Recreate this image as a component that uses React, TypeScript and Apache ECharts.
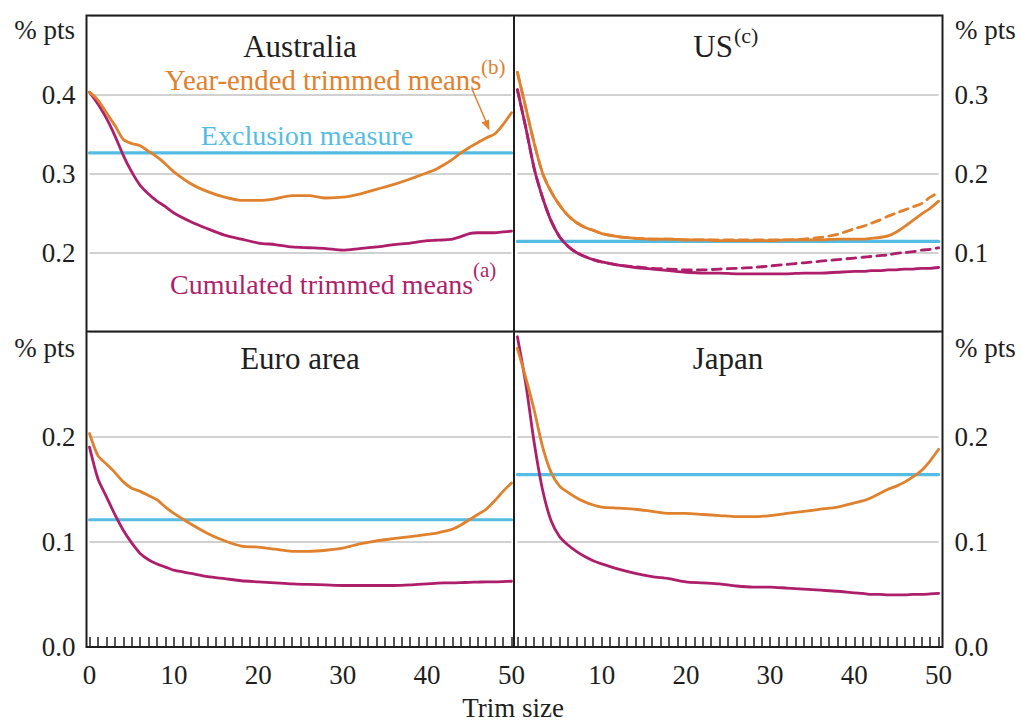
import React, { useEffect, useRef } from 'react';
import * as echarts from 'echarts';

// Trim sizes at which values are read
const TRIM = [0, 1, 2, 3, 4, 5, 6, 7, 8, 9, 10, 12, 14, 16, 18, 20, 22, 24, 26, 28, 30, 32, 34, 36, 38, 40, 41, 42, 43, 44, 45, 46, 47, 48, 49, 50];

// Australia
const AU_YEAR_ENDED = [0.403, 0.393, 0.377, 0.361, 0.343, 0.338, 0.335, 0.328, 0.321, 0.312, 0.302, 0.287, 0.277, 0.270, 0.266, 0.266, 0.268, 0.272, 0.272, 0.269, 0.270, 0.274, 0.280, 0.286, 0.293, 0.301, 0.305, 0.311, 0.318, 0.326, 0.333, 0.339, 0.345, 0.350, 0.362, 0.377];
const AU_CUMULATED = [0.403, 0.388, 0.370, 0.348, 0.323, 0.302, 0.285, 0.274, 0.265, 0.258, 0.250, 0.239, 0.230, 0.222, 0.217, 0.212, 0.210, 0.207, 0.206, 0.205, 0.203, 0.205, 0.207, 0.210, 0.212, 0.215, 0.2155, 0.216, 0.217, 0.220, 0.224, 0.225, 0.225, 0.225, 0.226, 0.227];
const AU_EXCLUSION = 0.326;

// US
const US_YEAR_ENDED = [0.328, 0.283, 0.238, 0.200, 0.177, 0.160, 0.147, 0.138, 0.132, 0.128, 0.124, 0.120, 0.118, 0.117, 0.117, 0.116, 0.116, 0.115, 0.115, 0.115, 0.115, 0.116, 0.116, 0.116, 0.117, 0.117, 0.117, 0.118, 0.119, 0.121, 0.126, 0.133, 0.141, 0.149, 0.156, 0.165];
const US_YEAR_ENDED_ALT = [0.328, 0.283, 0.238, 0.200, 0.177, 0.160, 0.147, 0.138, 0.132, 0.128, 0.124, 0.120, 0.118, 0.117, 0.117, 0.116, 0.116, 0.116, 0.116, 0.116, 0.116, 0.116, 0.117, 0.119, 0.123, 0.130, 0.133, 0.137, 0.141, 0.146, 0.150, 0.154, 0.158, 0.162, 0.170, 0.176];
const US_CUMULATED = [0.306, 0.258, 0.206, 0.169, 0.140, 0.120, 0.108, 0.100, 0.095, 0.091, 0.088, 0.084, 0.081, 0.079, 0.077, 0.075, 0.074, 0.074, 0.073, 0.073, 0.073, 0.073, 0.074, 0.074, 0.075, 0.076, 0.076, 0.077, 0.077, 0.078, 0.078, 0.079, 0.079, 0.080, 0.080, 0.081];
const US_CUMULATED_ALT = [0.306, 0.258, 0.206, 0.169, 0.140, 0.120, 0.108, 0.100, 0.095, 0.091, 0.088, 0.084, 0.082, 0.080, 0.079, 0.078, 0.078, 0.079, 0.080, 0.081, 0.083, 0.085, 0.087, 0.089, 0.091, 0.093, 0.094, 0.095, 0.096, 0.097, 0.099, 0.100, 0.101, 0.103, 0.104, 0.106];
const US_EXCLUSION = 0.114;

// Euro area
const EU_YEAR_ENDED = [0.203, 0.182, 0.174, 0.166, 0.157, 0.151, 0.148, 0.144, 0.140, 0.133, 0.127, 0.117, 0.108, 0.101, 0.096, 0.095, 0.093, 0.091, 0.091, 0.092, 0.094, 0.098, 0.101, 0.103, 0.105, 0.107, 0.108, 0.110, 0.112, 0.116, 0.121, 0.126, 0.131, 0.139, 0.148, 0.156];
const EU_CUMULATED = [0.190, 0.160, 0.143, 0.126, 0.111, 0.099, 0.089, 0.083, 0.079, 0.076, 0.073, 0.070, 0.067, 0.065, 0.063, 0.062, 0.061, 0.060, 0.0595, 0.059, 0.0585, 0.0585, 0.0585, 0.0585, 0.059, 0.060, 0.0605, 0.061, 0.061, 0.0612, 0.0615, 0.0617, 0.062, 0.062, 0.0622, 0.0625];
const EU_EXCLUSION = 0.121;

// Japan
const JP_YEAR_ENDED = [0.284, 0.256, 0.225, 0.190, 0.166, 0.153, 0.147, 0.142, 0.138, 0.135, 0.133, 0.132, 0.131, 0.129, 0.127, 0.127, 0.126, 0.125, 0.124, 0.124, 0.125, 0.127, 0.129, 0.131, 0.133, 0.137, 0.139, 0.142, 0.146, 0.150, 0.153, 0.157, 0.162, 0.168, 0.177, 0.188];
const JP_CUMULATED = [0.295, 0.250, 0.194, 0.149, 0.120, 0.105, 0.097, 0.091, 0.086, 0.082, 0.079, 0.074, 0.070, 0.067, 0.065, 0.062, 0.061, 0.060, 0.058, 0.057, 0.057, 0.056, 0.055, 0.054, 0.053, 0.0515, 0.051, 0.050, 0.050, 0.0495, 0.0495, 0.0495, 0.050, 0.050, 0.0505, 0.051];
const JP_EXCLUSION = 0.164;

const X_TICK_LABELS = [0, 10, 20, 30, 40, 50];

const ORANGE = '#DF812D';
const PURPLE = '#AE1F6B';
const BLUE = '#55BDE4';
const INK = '#1e1e1e';
const GRIDGRAY = '#c2c2c2';
const FONT = "'Liberation Serif', 'Times New Roman', serif";

const pairs = (ys: number[]) => TRIM.map((t, i) => [t, ys[i]]);
const flat = (v: number) => [[0, v], [50, v]];

function lineSeries(idx: number, data: number[][], color: string, dashed = false, width = 2.8, z = 3) {
  return {
    type: 'line',
    xAxisIndex: idx,
    yAxisIndex: idx,
    data,
    showSymbol: false,
    smooth: 0.25,
    silent: true,
    z,
    lineStyle: { color, width, type: dashed ? [9, 6] : 'solid', cap: 'round', join: 'round' },
  };
}

function txt(text: string, x: number, y: number, size: number, color: string, align: string) {
  return {
    type: 'text',
    x,
    y,
    z: 50,
    style: {
      text,
      fill: color,
      font: `${size}px ${FONT}`,
      align,
      textAlign: align,
      verticalAlign: 'middle',
      textVerticalAlign: 'middle',
    },
  };
}

export default function App() {
  const ref = useRef<HTMLDivElement>(null);

  useEffect(() => {
    if (!ref.current) return;
    const chart = echarts.init(ref.current, undefined, { renderer: 'svg' });

    const grids = [
      { left: 89.5, top: 15.5, width: 422, height: 316 },
      { left: 517.4, top: 15.5, width: 421.2, height: 316 },
      { left: 89.5, top: 331.5, width: 422, height: 315.5 },
      { left: 517.4, top: 331.5, width: 421.2, height: 315.5 },
    ];

    const xAxis = [0, 1, 2, 3].map((i) => {
      const bottom = i >= 2;
      const right = i % 2 === 1;
      return {
        type: 'value',
        gridIndex: i,
        min: 0,
        max: 50,
        interval: 1,
        show: bottom,
        axisLine: { show: false },
        splitLine: { show: false },
        axisTick: { show: bottom, inside: true, length: 10, lineStyle: { color: INK, width: 1.5 } },
        axisLabel: {
          show: bottom,
          margin: 14,
          fontSize: 27,
          fontFamily: FONT,
          color: INK,
          formatter: (v: number) => {
            if (!X_TICK_LABELS.includes(v)) return '';
            if (right && v === 0) return '';
            return String(v);
          },
        },
      };
    });

    const yRanges = [
      { min: 0.1, max: 0.5, showMin: false },
      { min: 0, max: 0.4, showMin: false },
      { min: 0, max: 0.3, showMin: true },
      { min: 0, max: 0.3, showMin: true },
    ];

    const yAxis = yRanges.map((r, i) => {
      const right = i % 2 === 1;
      return {
        type: 'value',
        gridIndex: i,
        min: r.min,
        max: r.max,
        interval: 0.1,
        position: right ? 'right' : 'left',
        axisLine: { show: false },
        axisTick: { show: false },
        splitLine: { show: true, lineStyle: { color: GRIDGRAY, width: 1.5 } },
        axisLabel: {
          showMinLabel: r.showMin,
          showMaxLabel: false,
          margin: right ? 16 : 14,
          fontSize: 27,
          fontFamily: FONT,
          color: INK,
          formatter: (v: number) => v.toFixed(1),
        },
      };
    });

    const series = [
      // Australia
      lineSeries(0, flat(AU_EXCLUSION), BLUE, false, 3.2, 2),
      lineSeries(0, pairs(AU_CUMULATED), PURPLE),
      lineSeries(0, pairs(AU_YEAR_ENDED), ORANGE),
      // US
      lineSeries(1, flat(US_EXCLUSION), BLUE, false, 3.2, 2),
      lineSeries(1, pairs(US_CUMULATED_ALT), PURPLE, true),
      lineSeries(1, pairs(US_CUMULATED), PURPLE),
      lineSeries(1, pairs(US_YEAR_ENDED_ALT), ORANGE, true),
      lineSeries(1, pairs(US_YEAR_ENDED), ORANGE),
      // Euro area
      lineSeries(2, flat(EU_EXCLUSION), BLUE, false, 3.2, 2),
      lineSeries(2, pairs(EU_CUMULATED), PURPLE),
      lineSeries(2, pairs(EU_YEAR_ENDED), ORANGE),
      // Japan
      lineSeries(3, flat(JP_EXCLUSION), BLUE, false, 3.2, 2),
      lineSeries(3, pairs(JP_CUMULATED), PURPLE),
      lineSeries(3, pairs(JP_YEAR_ENDED), ORANGE),
    ];

    const graphic = [
      {
        type: 'rect',
        z: 40,
        shape: { x: 86.5, y: 15.5, width: 856, height: 631.5 },
        style: { fill: 'none', stroke: INK, lineWidth: 2 },
      },
      {
        type: 'line',
        z: 40,
        shape: { x1: 514, y1: 15.5, x2: 514, y2: 647 },
        style: { stroke: INK, lineWidth: 2 },
      },
      {
        type: 'line',
        z: 40,
        shape: { x1: 86.5, y1: 331.5, x2: 942.5, y2: 331.5 },
        style: { stroke: INK, lineWidth: 2 },
      },
      txt('% pts', 75, 30, 27, INK, 'right'),
      txt('% pts', 955, 30, 27, INK, 'left'),
      txt('% pts', 75, 348, 27, INK, 'right'),
      txt('% pts', 955, 348, 27, INK, 'left'),
      txt('Australia', 300, 46, 31, INK, 'center'),
      txt('US', 733, 46, 31, INK, 'right'),
      txt('(c)', 734, 35, 22, INK, 'left'),
      txt('Euro area', 300, 358, 31, INK, 'center'),
      txt('Japan', 728, 358, 31, INK, 'center'),
      txt('Year-ended trimmed means', 165, 80, 28.8, ORANGE, 'left'),
      txt('(b)', 481, 67, 21, ORANGE, 'left'),
      txt('Exclusion measure', 307, 135, 28, BLUE, 'center'),
      txt('Cumulated trimmed means', 170, 284, 28, PURPLE, 'left'),
      txt('(a)', 473, 270, 21, PURPLE, 'left'),
      txt('Trim size', 513, 708, 27, INK, 'center'),
      {
        type: 'line',
        z: 45,
        shape: { x1: 472, y1: 89, x2: 487, y2: 124 },
        style: { stroke: ORANGE, lineWidth: 1.5 },
      },
      {
        type: 'polygon',
        z: 45,
        shape: { points: [[489.5, 130.5], [481.6, 122.6], [489.0, 119.4]] },
        style: { fill: ORANGE },
      },
    ];

    chart.setOption({
      animation: false,
      backgroundColor: '#ffffff',
      grid: grids.map((g) => ({ ...g, containLabel: false })),
      xAxis,
      yAxis,
      series,
      graphic,
    });

    return () => {
      chart.dispose();
    };
  }, []);

  return (
    <div
      ref={ref}
      style={{ position: 'absolute', left: 0, top: 0, width: 1021, height: 722, background: '#fff' }}
    />
  );
}
